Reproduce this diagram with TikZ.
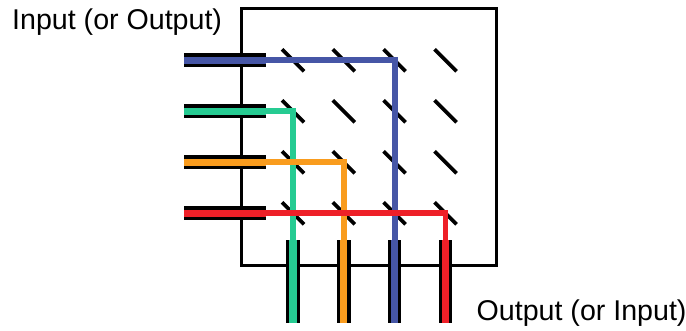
\documentclass[tikz,border=0pt]{standalone}
\usepackage{fontspec}
\setmainfont{Liberation Sans}
\definecolor{fblue}{HTML}{4656A6}
\definecolor{fgreen}{HTML}{26CB92}
\definecolor{forange}{HTML}{F99C1E}
\definecolor{fred}{HTML}{EE2028}
\tikzset{
  boxstyle/.style={draw=black,line width=3.4pt,minimum width=255pt,minimum height=256.5pt,inner sep=0pt,fill=none},
  mirrorstyle/.style={draw=black,line width=3.7pt},
  sleeve/.style={draw=black,line width=13.6pt},
  core/.style={line width=7.2pt},
  beam/.style={line width=5.8pt,line join=miter},
  lab/.style={font=\fontsize{28.6}{30}\selectfont,inner sep=0pt,anchor=base west}
}
\begin{document}
\begin{tikzpicture}[x=1pt,y=-1pt]
\useasboundingbox (0,0) rectangle (686,331);
\node[boxstyle] (box) at (369,137) {};
\foreach \i/\x in {1/293,2/343.7,3/394.6,4/445.5}{
  \foreach \j/\y in {1/60.3,2/111.3,3/162.3,4/213.3}{
    \coordinate (m\i\j) at (\x,\y);
    \draw[mirrorstyle] ([shift={(-11,-11)}]m\i\j) -- ([shift={(11,11)}]m\i\j);
  }
  \coordinate (bt\i) at (\x,240.5);
  \coordinate (bb\i) at (\x,323.5);
  \draw[sleeve] (bt\i) -- (bb\i);
}
\foreach \j/\y in {1/60.3,2/111.3,3/162.3,4/213.3}{
  \coordinate (ll\j) at (184,\y);
  \coordinate (lr\j) at (266,\y);
  \draw[sleeve] (ll\j) -- (lr\j);
}
% blue
\draw[fblue,core] (ll1) -- (lr1);
\draw[fblue,core] (bt3) -- (bb3);
\draw[fblue,beam] (lr1) -- (m31) -- (bt3);
% green
\draw[fgreen,core] (ll2) -- (lr2);
\draw[fgreen,core] (bt1) -- (bb1);
\draw[fgreen,beam] (lr2) -- (m12) -- (bt1);
% orange
\draw[forange,core] (ll3) -- (lr3);
\draw[forange,core] (bt2) -- (bb2);
\draw[forange,beam] (lr3) -- (m23) -- (bt2);
% red
\draw[fred,core] (ll4) -- (lr4);
\draw[fred,core] (bt4) -- (bb4);
\draw[fred,beam] (lr4) -- (m44) -- (bt4);
\node[lab] (inlabel) at (12,30) {Input (or Output)};
\node[lab] (outlabel) at (476.5,321) {Output (or Input)};
\end{tikzpicture}
\end{document}
